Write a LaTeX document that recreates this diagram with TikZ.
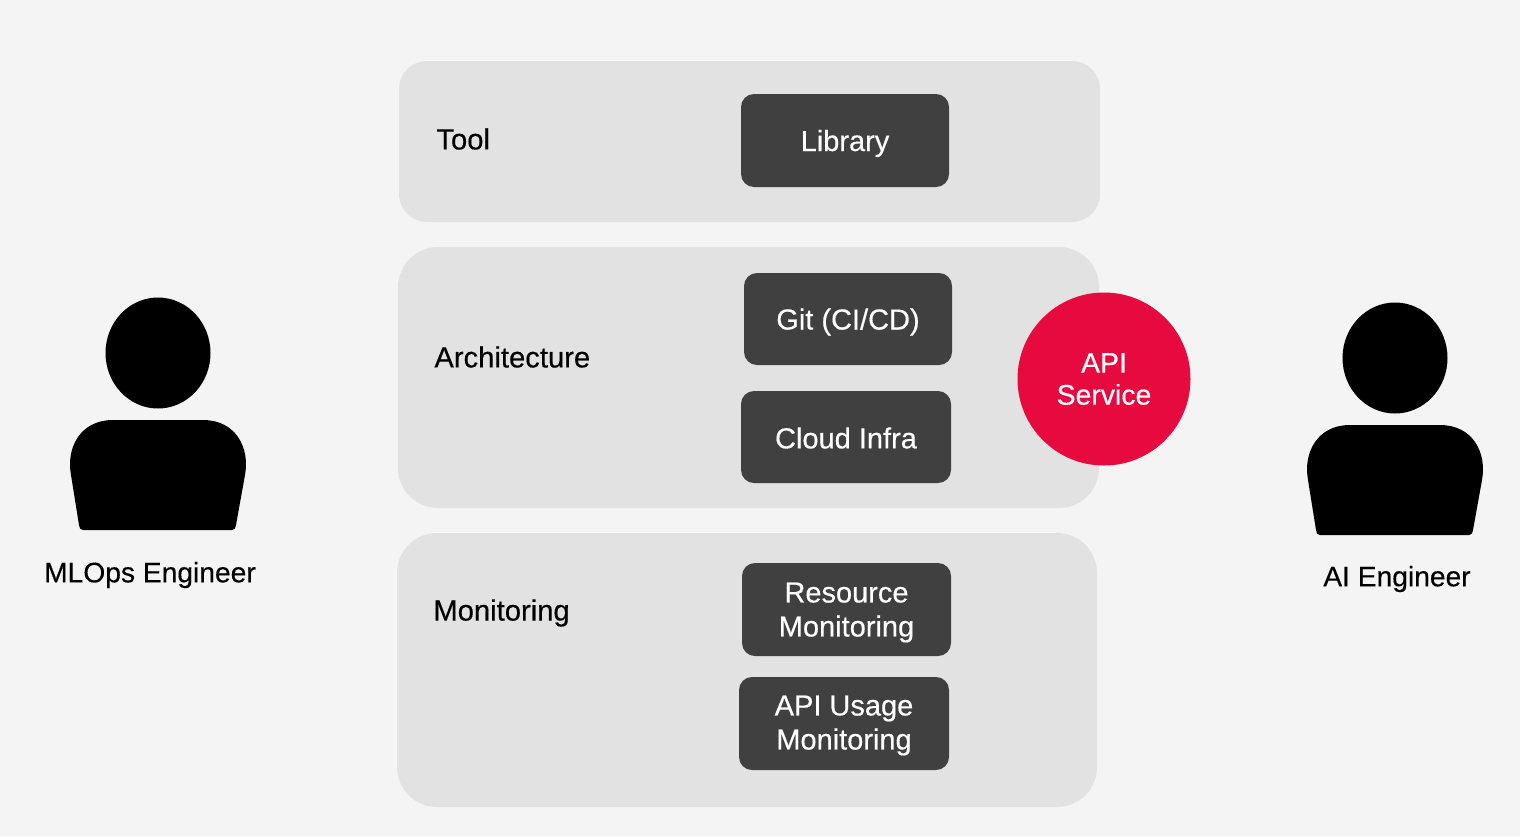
\documentclass[tikz,border=0pt]{standalone}
\usepackage{fontspec}
\setmainfont[FakeBold=0.35]{Liberation Sans}
\definecolor{bgc}{HTML}{F4F4F4}
\definecolor{panelc}{HTML}{E2E2E2}
\definecolor{boxc}{HTML}{404040}
\definecolor{redc}{HTML}{E60A3F}
\tikzset{
  px/.style={x=0.5pt,y=-0.5pt},
  panel/.style={fill=panelc,draw=none,rounded corners=14pt},
  darkbox/.style={fill=boxc,draw=none,rounded corners=6.5pt,anchor=center,inner sep=0pt},
  boxtext/.style={text=white,font=\fontsize{14.5}{17}\selectfont,align=center,anchor=center,inner sep=0pt},
  lab/.style={text=black,font=\fontsize{14.6}{17}\selectfont,anchor=west,inner sep=0pt},
  captext/.style={text=black,font=\fontsize{14.1}{17}\selectfont,anchor=center,inner sep=0pt},
}
\newcommand{\boxnode}[7]{% name x0 y0 x1 y1 text text-shift
  \node[darkbox,minimum width=#4*0.5pt-#2*0.5pt,minimum height=#5*0.5pt-#3*0.5pt] (#1) at ({(#2+#4)/2},{(#3+#5)/2}) {};
  \node[boxtext] (#1text) at ([yshift=-#7*0.5pt]#1.center) {#6};
}
\newcommand{\person}[2]{%
  \fill[black] (#1,#2) ellipse [x radius=52.5, y radius=55.5];
  \fill[black] (#1-75,#2+177) -- (#1+74,#2+177)
     .. controls (#1+77,#2+177) and (#1+77.5,#2+175) .. (#1+78,#2+172)
     -- (#1+87,#2+122)
     .. controls (#1+92,#2+95) and (#1+78,#2+67) .. (#1+45,#2+67)
     -- (#1-45,#2+67)
     .. controls (#1-78,#2+67) and (#1-92,#2+95) .. (#1-87,#2+122)
     -- (#1-79,#2+172)
     .. controls (#1-78.5,#2+175) and (#1-78,#2+177) .. (#1-75,#2+177) -- cycle;
}
\begin{document}
\begin{tikzpicture}[px]
\useasboundingbox (0,0) rectangle (1520,836);
\fill[bgc] (0,0) rectangle (1520,836);
\fill[panel] (399,61) rectangle (1100,222);
\fill[panel,rounded corners=20pt] (398,247) rectangle (1099,508);
\fill[panel,rounded corners=20pt] (397,533) rectangle (1097,807);
\node[lab] (tool) at (436,139) {Tool};
\node[lab] (arch) at (434,357) {Architecture};
\node[lab] (mon) at (433,613) {Monitoring};
\boxnode{lib}{741}{94}{949}{187}{Library}{3}
\boxnode{git}{744}{273}{952}{365}{Git (CI/CD)}{3}
\boxnode{cloud}{741}{391}{951}{483}{Cloud Infra}{1}
\boxnode{res}{742}{563}{951}{656}{Resource\\Monitoring}{3}
\boxnode{api}{739}{677}{949}{770}{API Usage\\Monitoring}{2}
\node[circle,fill=redc,text=white,minimum size=86.5pt,inner sep=0pt,align=center,font=\fontsize{14.2}{16}\selectfont] (svc) at (1104,379) {API\\Service};
\person{158}{353}
\person{1395}{358}
\node[captext] (mlops) at (150,575) {MLOps Engineer};
\node[captext] (ai) at (1397,579) {AI Engineer};
\end{tikzpicture}
\end{document}
